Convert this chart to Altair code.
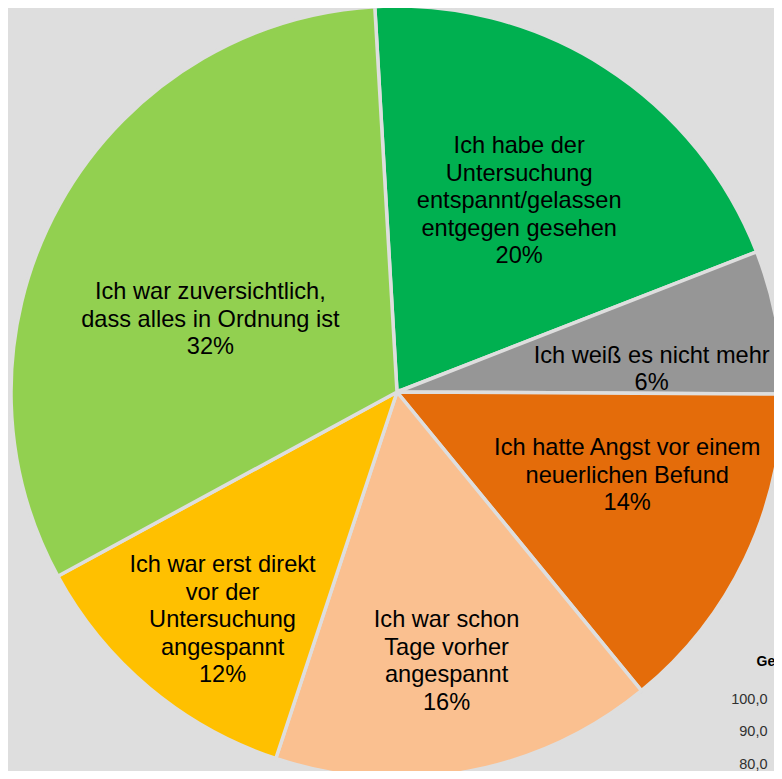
import math
import altair as alt
import pandas as pd

# ---- data ----
categories = [
    "entspannt/gelassen",
    "weiß nicht mehr",
    "Angst vor Befund",
    "Tage vorher angespannt",
    "direkt vorher angespannt",
    "zuversichtlich",
]
values = [20, 6, 14, 16, 12, 32]
label_lines = [
    ["Ich habe der", "Untersuchung", "entspannt/gelassen", "entgegen gesehen"],
    ["Ich weiß es nicht mehr"],
    ["Ich hatte Angst vor einem", "neuerlichen Befund"],
    ["Ich war schon", "Tage vorher", "angespannt"],
    ["Ich war erst direkt", "vor der", "Untersuchung", "angespannt"],
    ["Ich war zuversichtlich,", "dass alles in Ordnung ist"],
]
colors = ["#00B050", "#969696", "#E46C0A", "#FAC090", "#FFC000", "#92D050"]

# fragment of neighbouring chart (axis tick labels)
frag_ticks = [100, 90, 80]

# ---- label placement (radius, dx, dy of first line) ----
label_place = [
    (228, -1, -54),
    (259, 0, 11),
    (244, 10, -49),
    (272, 0, -39),
    (286, 9, -46),
    (201, -11, -2),
]

BG = "#DEDEDE"
start = math.radians(-3.3)

df = pd.DataFrame({
    "cat": categories,
    "value": values,
    "order": list(range(len(categories))),
    "label": ["\n".join(l + [f"{v}%"]) for l, v in zip(label_lines, values)],
})

base = alt.Chart(df).encode(
    theta=alt.Theta("value:Q", stack=True,
                    scale=alt.Scale(range=[start, start + 2 * math.pi])),
    order=alt.Order("order:Q"),
)

arc = base.mark_arc(radius=386, stroke=BG, strokeWidth=3.5).encode(
    color=alt.Color("cat:N", scale=alt.Scale(domain=categories, range=colors), legend=None)
)

texts = []
for i, (r, dx, dy) in enumerate(label_place):
    texts.append(
        base.mark_text(
            radius=r, dx=dx, dy=dy, font="Liberation Sans", fontSize=23.6,
            lineHeight=27.5, lineBreak="\n", align="center", baseline="middle",
            color="black",
        ).encode(
            detail="cat:N",
            text=alt.condition(f"datum.order == {i}", "label:N", alt.value("")),
        )
    )

frag = alt.Chart(pd.DataFrame({"v": frag_ticks})).mark_point(opacity=0).encode(
    y=alt.Y(
        "v:Q",
        scale=alt.Scale(domain=[70, 100], range=[780.25, 682], nice=False, zero=False),
        axis=alt.Axis(
            orient="left", offset=-759, values=frag_ticks, grid=False,
            domain=True, domainColor="#868686", tickColor="#868686", tickSize=5,
            labelPadding=9, labelFontSize=14.5, labelFont="Liberation Sans",
            labelColor="#303030",
            labelExpr="replace(format(datum.value, '.1f'), '.', ',')",
            title="Ge", titleAngle=0, titleX=-25, titleY=648, titleAlign="left",
            titleBaseline="alphabetic", titleFontSize=14, titleFontWeight="bold",
            titleColor="black", titleFont="Liberation Sans",
        ),
    )
)

chart = alt.layer(arc, *texts, frag).properties(
    width=750, height=750,
    padding={"left": 14, "top": 9, "right": 2, "bottom": 4},
    autosize=alt.AutoSizeParams(type="none"),
    background=BG,
).configure_view(stroke=None)

chart.save("out.html", embed_options={"renderer": "svg", "actions": False})
